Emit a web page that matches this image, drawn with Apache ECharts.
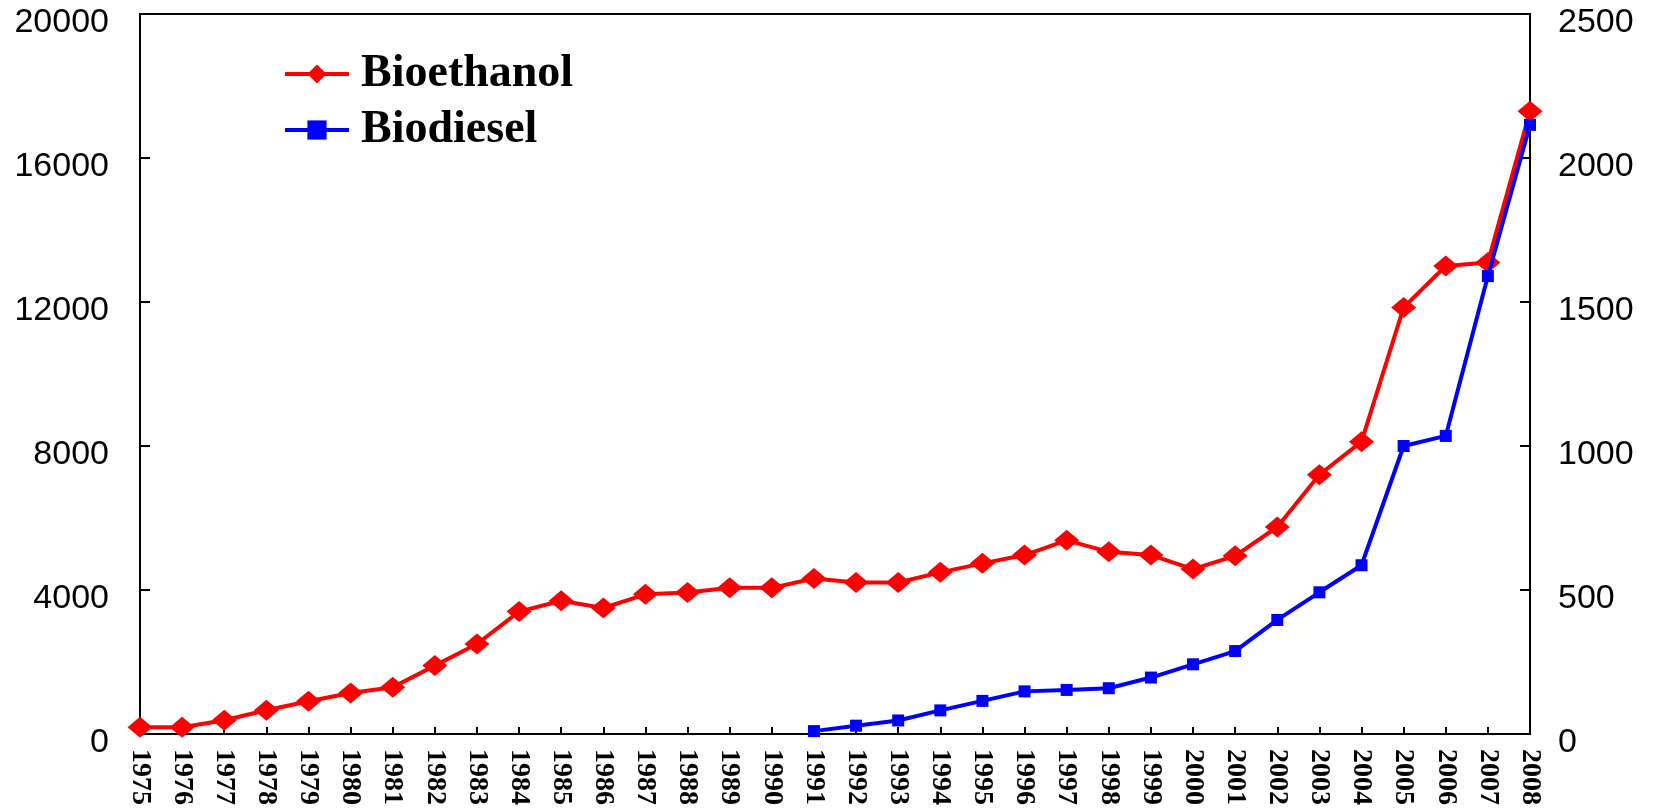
<!DOCTYPE html>
<html>
<head>
<meta charset="utf-8">
<script src="https://cdn.jsdelivr.net/npm/echarts@6/dist/echarts.min.js"></script>
<style>
html,body{margin:0;padding:0;background:#fff;}
#chart{width:1653px;height:808px;}
</style>
</head>
<body>
<div id="chart"></div>
<script>
const years = ['1975','1976','1977','1978','1979','1980','1981','1982','1983','1984','1985','1986','1987','1988','1989','1990','1991','1992','1993','1994','1995','1996','1997','1998','1999','2000','2001','2002','2003','2004','2005','2006','2007','2008'];
const bioethanol = [190,190,380,660,910,1140,1300,1900,2500,3400,3700,3500,3880,3930,4060,4060,4320,4210,4210,4490,4740,4970,5380,5060,4970,4580,4950,5750,7200,8120,11850,13000,13100,17300];
const biodiesel = [null,null,null,null,null,null,null,null,null,null,null,null,null,null,null,null,10,29,47,82,115,148,153,159,196,242,288,396,492,586,1000,1035,1590,2115];
const leftTicks = {min:0, max:20000, interval:4000};
const rightTicks = {min:0, max:2500, interval:500};

const yLabel = {
  fontFamily:'Liberation Sans', fontSize:34, color:'#000',
  formatter: v => '{a|' + v + '}',
  rich:{a:{fontFamily:'Liberation Sans', fontSize:34, color:'#000', padding:[17,0,0,0]}}
};

const chart = echarts.init(document.getElementById('chart'));
chart.setOption({
  backgroundColor:'#fff',
  animation:false,
  grid:{left:140, right:123, top:14, bottom:72, show:true, borderColor:'#000', borderWidth:2, backgroundColor:'transparent'},
  legend:{
    orient:'vertical', left:278, top:46, itemWidth:64, itemHeight:24, itemGap:10,
    lineStyle:{width:4},
    textStyle:{fontFamily:'Liberation Serif', fontWeight:'bold', fontSize:46, color:'#000', padding:[0,0,0,7]},
    data:['Bioethanol','Biodiesel']
  },
  xAxis:{
    type:'category', data:years, boundaryGap:false,
    axisLine:{lineStyle:{color:'#000', width:2}},
    axisTick:{inside:true, length:7, lineStyle:{color:'#000', width:2}},
    axisLabel:{rotate:-90, margin:15, interval:0, fontFamily:'Liberation Serif', fontWeight:'bold', fontSize:28, color:'#000'},
    splitLine:{show:false}
  },
  yAxis:[{
    type:'value', min:leftTicks.min, max:leftTicks.max, interval:leftTicks.interval, position:'left',
    axisLine:{show:true, lineStyle:{color:'#000', width:2}},
    axisTick:{show:true, inside:true, length:10, lineStyle:{color:'#000', width:2}},
    axisLabel:Object.assign({margin:31}, yLabel),
    splitLine:{show:false}
  },{
    type:'value', min:rightTicks.min, max:rightTicks.max, interval:rightTicks.interval, position:'right',
    axisLine:{show:true, lineStyle:{color:'#000', width:2}},
    axisTick:{show:true, inside:true, length:10, lineStyle:{color:'#000', width:2}},
    axisLabel:Object.assign({margin:28}, yLabel),
    splitLine:{show:false}
  }],
  series:[{
    name:'Bioethanol', type:'line', yAxisIndex:0, data:bioethanol,
    symbol:'diamond', symbolSize:[25,21], showAllSymbol:true,
    lineStyle:{color:'#FF0000', width:4}, itemStyle:{color:'#FF0000'}, z:3
  },{
    name:'Biodiesel', type:'line', yAxisIndex:1, data:biodiesel,
    symbol:'rect', symbolSize:12, showAllSymbol:true,
    lineStyle:{color:'#0000FF', width:4}, itemStyle:{color:'#0000FF'}, z:4
  }]
});
</script>
</body>
</html>
